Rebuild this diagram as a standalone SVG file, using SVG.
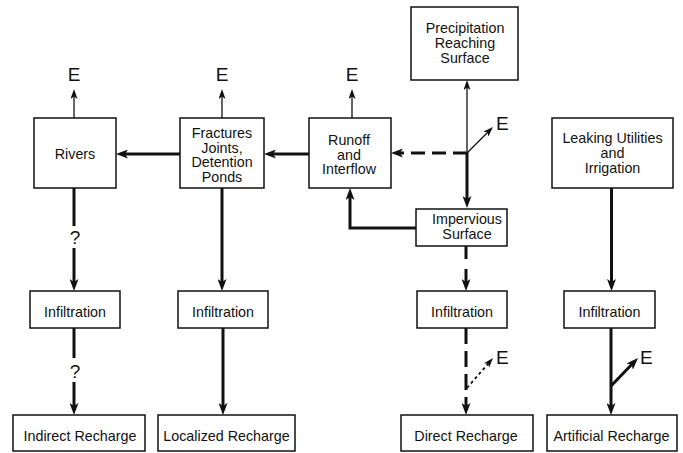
<svg xmlns="http://www.w3.org/2000/svg" width="683" height="453" viewBox="0 0 683 453">
<style>
.box{fill:#fff;stroke:#111;stroke-width:1.5}
.t{font-family:"Liberation Sans",Arial,Helvetica,sans-serif;font-size:14.3px;fill:#111;text-anchor:middle}
.e{font-family:"Liberation Sans",Arial,Helvetica,sans-serif;font-size:19px;fill:#111}
.q{font-family:"Liberation Sans",Arial,Helvetica,sans-serif;font-size:19px;fill:#111;text-anchor:middle}
.thick{fill:none;stroke:#111;stroke-width:3}
.thin{fill:none;stroke:#111;stroke-width:1.3}
.dash1{stroke-dasharray:14 7}
.dash2{stroke-dasharray:13 10}
.dash3{stroke-dasharray:16 7}
.dot{fill:none;stroke:#111;stroke-width:1.8;stroke-dasharray:3 3}
</style>
<defs>
<marker id="ah" markerUnits="userSpaceOnUse" markerWidth="12" markerHeight="9" refX="4" refY="4.5" orient="auto">
<path d="M0,0 L12,4.5 L0,9 L3,4.5 z" fill="#111"/>
</marker>
<marker id="at" markerUnits="userSpaceOnUse" markerWidth="10" markerHeight="7" refX="3" refY="3.5" orient="auto">
<path d="M0,0 L10,3.5 L0,7 L2.5,3.5 z" fill="#111"/>
</marker>
</defs>

<g id="connectors">
<path class="thin" d="M74,118 V96" marker-end="url(#at)"/>
<path class="thin" d="M222,118 V96" marker-end="url(#at)"/>
<path class="thin" d="M352,118 V96" marker-end="url(#at)"/>
<path class="thick" d="M180,154 H124" marker-end="url(#ah)"/>
<path class="thick" d="M309,154 H272" marker-end="url(#ah)"/>
<path class="thin" d="M467,153 V87" marker-end="url(#at)"/>
<path class="thick" d="M467,152 V200" marker-end="url(#ah)"/>
<path class="thick dash1" d="M467,153 H399" marker-end="url(#ah)"/>
<path class="thin" d="M467,153 L488,132" marker-end="url(#at)"/>
<path class="thick" d="M416,228 H350 V196" marker-end="url(#ah)"/>
<path class="thick dash2" d="M466,246 V283" marker-end="url(#ah)"/>
<path class="thick dash3" d="M466,328 V407" marker-end="url(#ah)"/>
<path class="dot" d="M467,388 L488.4,363.3" marker-end="url(#at)"/>
<path class="thick" d="M74,188 V226"/>
<path class="thick" d="M74,248 V283" marker-end="url(#ah)"/>
<path class="thick" d="M74,328 V358"/>
<path class="thick" d="M74,382 V407" marker-end="url(#ah)"/>
<path class="thick" d="M222,188 V283" marker-end="url(#ah)"/>
<path class="thick" d="M223,328 V407" marker-end="url(#ah)"/>
<path class="thick" d="M611.5,188 V283" marker-end="url(#ah)"/>
<path class="thick" d="M611,328 V407" marker-end="url(#ah)"/>
<path class="thick" d="M611,386 L632.4,363.8" marker-end="url(#ah)"/>
<text class="q" x="75" y="244">?</text>
<text class="q" x="75" y="378">?</text>
<text class="e" x="74" y="81" text-anchor="middle">E</text>
<text class="e" x="222" y="81" text-anchor="middle">E</text>
<text class="e" x="352" y="81" text-anchor="middle">E</text>
<text class="e" x="496" y="130">E</text>
<text class="e" x="496" y="364">E</text>
<text class="e" x="640" y="364">E</text>
</g>

<g id="precip">
<rect class="box" x="411" y="7" width="107" height="73"/>
<text class="t" x="465" y="33">Precipitation</text>
<text class="t" x="465" y="48">Reaching</text>
<text class="t" x="465" y="63">Surface</text>
</g>
<g id="rivers">
<rect class="box" x="34" y="118" width="82" height="70"/>
<text class="t" x="75" y="159">Rivers</text>
</g>
<g id="fractures">
<rect class="box" x="180" y="118" width="84" height="70"/>
<text class="t" x="222" y="138">Fractures</text>
<text class="t" x="222" y="152.5">Joints,</text>
<text class="t" x="222" y="167">Detention</text>
<text class="t" x="222" y="181.5">Ponds</text>
</g>
<g id="runoff">
<rect class="box" x="309" y="118" width="82" height="70"/>
<text class="t" x="349" y="145">Runoff</text>
<text class="t" x="349" y="159.5">and</text>
<text class="t" x="349" y="174">Interflow</text>
</g>
<g id="leaking">
<rect class="box" x="552" y="118" width="121" height="70"/>
<text class="t" x="612.5" y="143">Leaking Utilities</text>
<text class="t" x="612.5" y="158">and</text>
<text class="t" x="612.5" y="172.5">Irrigation</text>
</g>
<g id="impervious">
<rect class="box" x="416" y="209" width="91" height="37"/>
<text class="t" x="467" y="224">Impervious</text>
<text class="t" x="467" y="238.5">Surface</text>
</g>
<g id="inf1">
<rect class="box" x="30" y="291" width="90" height="37"/>
<text class="t" x="75" y="316.5">Infiltration</text>
</g>
<g id="inf2">
<rect class="box" x="178" y="291" width="90" height="37"/>
<text class="t" x="223" y="316.5">Infiltration</text>
</g>
<g id="inf3">
<rect class="box" x="417" y="291" width="90" height="37"/>
<text class="t" x="462" y="316.5">Infiltration</text>
</g>
<g id="inf4">
<rect class="box" x="564" y="291" width="91" height="37"/>
<text class="t" x="609.5" y="316.5">Infiltration</text>
</g>
<g id="indirect">
<rect class="box" x="13" y="415" width="132" height="36"/>
<text class="t" x="80" y="440.5">Indirect Recharge</text>
</g>
<g id="localized">
<rect class="box" x="158" y="415" width="137" height="36"/>
<text class="t" x="226.5" y="440.5">Localized Recharge</text>
</g>
<g id="direct">
<rect class="box" x="401" y="415" width="132" height="36"/>
<text class="t" x="466" y="440.5">Direct Recharge</text>
</g>
<g id="artificial">
<rect class="box" x="547" y="415" width="130" height="36"/>
<text class="t" x="611.5" y="440.5">Artificial Recharge</text>
</g>
</svg>
